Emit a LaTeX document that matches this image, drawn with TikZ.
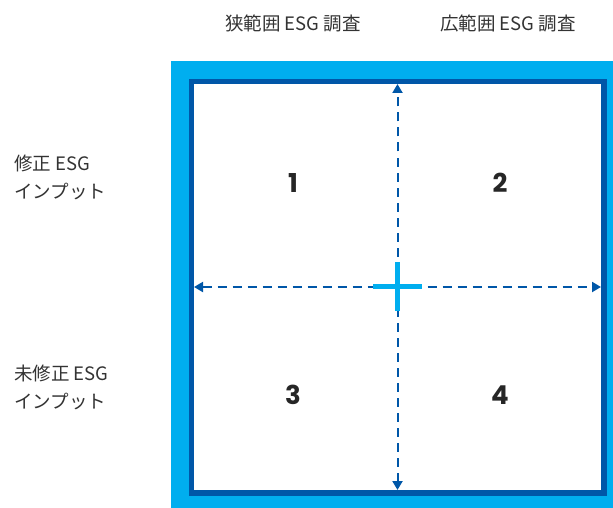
\documentclass[tikz,border=0pt]{standalone}
\usepackage{fontspec}
\setmainfont{Noto Sans CJK JP}
\newfontfamily\numfont{Poppins}[UprightFont=* Bold]
\usetikzlibrary{arrows.meta}
\definecolor{lightblue}{HTML}{00AEEF}
\definecolor{darkblue}{HTML}{0057A8}
\tikzset{
  quadnum/.style={font=\numfont\fontsize{26}{30}\selectfont, text=black!85},
  lbl/.style={font=\fontsize{18.5}{28}\selectfont, text=black!80, inner sep=0pt},
  axis/.style={darkblue, line width=2pt, dash pattern=on 9pt off 6pt,
     {Triangle[width=10pt,length=9pt]}-{Triangle[width=10pt,length=9pt]}},
}
\begin{document}
\begin{tikzpicture}[x=1pt,y=-1pt]
\useasboundingbox (0,0) rectangle (613,508);
\fill[lightblue] (171,61) rectangle (613,508);
\fill[white] (191.5,81.5) rectangle (604,493);
\draw[darkblue, line width=5.5pt] (191.5,81.5) rectangle (604,493);
% axes
\coordinate (top) at (397.5,84);
\coordinate (bot) at (397.5,490);
\coordinate (lft) at (194,287);
\coordinate (rgt) at (601,287);
\draw[axis] (bot) -- (top);
\draw[axis] (lft) -- (rgt);
% center cross
\coordinate (c) at (397.5,286.5);
\draw[lightblue, line width=5pt] (373,286.5) -- (422,286.5);
\draw[lightblue, line width=5pt] (397.5,262) -- (397.5,311);
% numbers
\node[quadnum] (n1) at (293,183) {1};
\node[quadnum] (n2) at (500,183) {2};
\node[quadnum] (n3) at (293,395) {3};
\node[quadnum] (n4) at (500,395) {4};
% labels
\node[lbl] (t1) at (293,23) {狭範囲 ESG 調査};
\node[lbl] (t2) at (508,23) {広範囲 ESG 調査};
\node[lbl, anchor=west, align=left] (l1) at (14,177) {修正 ESG\\インプット};
\node[lbl, anchor=west, align=left] (l2) at (14,387) {未修正 ESG\\インプット};
\end{tikzpicture}
\end{document}
